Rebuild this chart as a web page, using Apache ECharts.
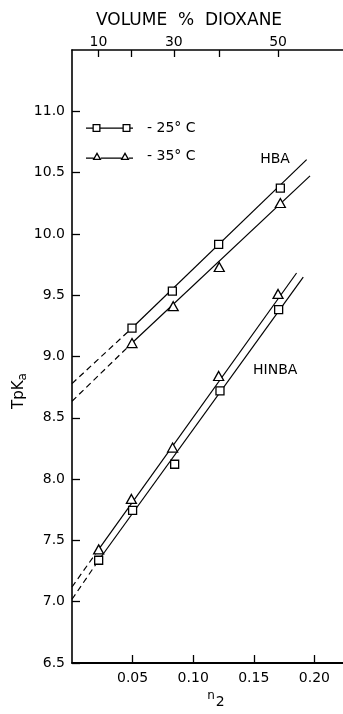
<!DOCTYPE html>
<html><head><meta charset="utf-8">
<script src="https://cdn.jsdelivr.net/npm/echarts@6/dist/echarts.min.js"></script>
<style>html,body{margin:0;padding:0;background:#fff}#c{width:343px;height:714px}</style>
</head><body><div id="c"></div>
<script>
// ---- data ----
const yTicks = [6.5, 7.0, 7.5, 8.0, 8.5, 9.0, 9.5, 10.0, 10.5, 11.0];
const xTicks = [0.05, 0.10, 0.15, 0.20];
// top axis: volume % dioxane positions expressed in n2
const volPct = [10, 20, 30, 40, 50];
const volPos = [0.0218, 0.0487, 0.0840, 0.1212, 0.1700];
const volLabeled = [10, 30, 50];

// HBA
const hba25 = [[0.0495, 9.232], [0.0828, 9.534], [0.1210, 9.915], [0.1719, 10.374]];
const hba35 = [[0.0495, 9.110], [0.0835, 9.410], [0.1215, 9.730], [0.1719, 10.252]];
const hba25Line = [[0.0495, 9.232], [0.1936, 10.606]];
const hba35Line = [[0.0495, 9.110], [0.1964, 10.473]];
const hba25Dash = [[0.0, 8.779], [0.0495, 9.232]];
const hba35Dash = [[0.0, 8.635], [0.0495, 9.110]];
// HINBA
const hinba25 = [[0.0220, 7.338], [0.0500, 7.745], [0.0847, 8.121], [0.1221, 8.719], [0.1705, 9.383]];
const hinba35 = [[0.0220, 7.427], [0.0490, 7.838], [0.0830, 8.257], [0.1210, 8.841], [0.1700, 9.510]];
const hinba25Line = [[0.0220, 7.338], [0.1908, 9.648]];
const hinba35Line = [[0.0220, 7.427], [0.1853, 9.681]];
const hinba25Dash = [[0.0, 7.020], [0.0220, 7.338]];
const hinba35Dash = [[0.0, 7.120], [0.0220, 7.427]];
// curve labels
const curveLabels = [[0.1675, 10.609, 'HBA'], [0.1677, 8.889, 'HINBA']];

const FONT = 'DejaVu Sans';
const sqIcon = 'path://M0 4H6.5V5.2H0Z M6.5 0.5H14.5V8.5H6.5Z M7.8 1.8V7.2H13.2V1.8Z M14.5 4H36.5V5.2H14.5Z M36.5 0.5H44.5V8.5H36.5Z M37.8 1.8V7.2H43.2V1.8Z M44.5 4H47V5.2H44.5Z';
const triIcon = 'path://M0 6H7.6V7.2H0Z M6.5 8.5L11 0.5L15.5 8.5Z M8.7 7.3L13.3 7.3L11 3.2Z M14.8 6H35.6V7.2H14.8Z M34.5 8.5L39 0.5L43.5 8.5Z M36.7 7.3L41.3 7.3L39 3.2Z M42.8 6H47V7.2H42.8Z';

function lineSeries(data, dashed) {
  return { type: 'line', data: data, symbol: 'none', silent: true, z: 2,
    lineStyle: { color: '#000', width: 1.2, type: dashed ? [6, 4] : 'solid' } };
}
function markerSeries(name, data, shape) {
  return { type: 'scatter', name: name, data: data, z: 5,
    symbol: shape === 'sq' ? 'rect' : 'triangle',
    symbolSize: shape === 'sq' ? [8, 8] : [10, 9],
    itemStyle: { color: '#fff', borderColor: '#000', borderWidth: 1.3, opacity: 1 } };
}

const chart = echarts.init(document.getElementById('c'), null, { renderer: 'canvas' });
chart.setOption({
  animation: false,
  backgroundColor: '#fff',
  textStyle: { fontFamily: FONT, color: '#000' },
  grid: { left: 72, right: 0, top: 50, bottom: 51 },
  title: { text: 'VOLUME  %  DIOXANE', left: 91, top: 7,
    textStyle: { fontFamily: FONT, fontSize: 17, fontWeight: 'normal', color: '#000' } },
  legend: {
    orient: 'vertical', left: 86, top: 121, padding: 0, itemWidth: 47, itemHeight: 9, itemGap: 14,
    data: [{ name: '25° C', icon: sqIcon }, { name: '35° C', icon: triIcon }],
    itemStyle: { color: '#000', borderColor: '#000', borderWidth: 0 },
    formatter: function (n) { return '- ' + n; },
    textStyle: { fontFamily: FONT, fontSize: 14, color: '#000', padding: [0, 0, 0, 9] },
    selectedMode: false
  },
  xAxis: [{
    type: 'value', min: 0, max: 0.2236, position: 'bottom',
    axisLine: { show: true, lineStyle: { color: '#000', width: 1.8 } },
    axisTick: { show: true, inside: true, length: 8, customValues: xTicks, lineStyle: { color: '#000', width: 1.3 } },
    axisLabel: { margin: 8, fontFamily: FONT, fontSize: 14, color: '#000', customValues: xTicks,
      formatter: function (v) { return v.toFixed(2); } },
    splitLine: { show: false }
  }, {
    type: 'value', min: 0, max: 0.2236, position: 'top',
    axisLine: { show: true, lineStyle: { color: '#000', width: 1.6 } },
    axisTick: { show: true, inside: true, length: 7, customValues: volPos, lineStyle: { color: '#000', width: 1.3 } },
    axisLabel: { margin: 1, fontFamily: FONT, fontSize: 14, color: '#000',
      customValues: volPos.filter((p, i) => volLabeled.indexOf(volPct[i]) >= 0),
      formatter: function (v) {
        let best = 0; for (let i = 0; i < volPos.length; i++) if (Math.abs(volPos[i] - v) < Math.abs(volPos[best] - v)) best = i;
        return String(volPct[best]);
      } },
    splitLine: { show: false }
  }],
  yAxis: {
    type: 'value', min: 6.5, max: 11.5,
    axisLine: { show: true, lineStyle: { color: '#000', width: 1.6 } },
    axisTick: { show: true, inside: true, length: 8, customValues: yTicks, lineStyle: { color: '#000', width: 1.3 } },
    axisLabel: { margin: 7, fontFamily: FONT, fontSize: 14, color: '#000', customValues: yTicks,
      formatter: function (v) { return v.toFixed(1); } },
    splitLine: { show: false }
  },
  graphic: [
    { type: 'text', x: 19, y: 391, rotation: Math.PI / 2,
      style: { text: '{m|TpK}{s|a}', align: 'center', verticalAlign: 'middle',
        rich: { m: { fontFamily: FONT, fontSize: 15, fill: '#000' }, s: { fontFamily: FONT, fontSize: 12, fill: '#000', padding: [7, 0, 0, 0] } } } },
    { type: 'text', x: 216, y: 699,
      style: { text: '{m|n}{s|2}', align: 'center', verticalAlign: 'middle',
        rich: { m: { fontFamily: FONT, fontSize: 12, fill: '#000', padding: [0, 1, 6, 0] }, s: { fontFamily: FONT, fontSize: 14, fill: '#000', padding: [6, 0, 0, 0] } } } }
  ],
  series: [
    lineSeries(hba25Line), lineSeries(hba35Line), lineSeries(hba25Dash, true), lineSeries(hba35Dash, true),
    lineSeries(hinba25Line), lineSeries(hinba35Line), lineSeries(hinba25Dash, true), lineSeries(hinba35Dash, true),
    markerSeries('25° C', hba25.concat(hinba25), 'sq'),
    markerSeries('35° C', hba35.concat(hinba35), 'tri'),
    { type: 'scatter', data: curveLabels, symbolSize: 0, silent: true, itemStyle: { opacity: 1, color: '#000' },
      label: { show: true, position: 'inside', formatter: p => p.data[2], fontFamily: FONT, fontSize: 14, color: '#000', opacity: 1 } }
  ]
});
</script></body></html>
